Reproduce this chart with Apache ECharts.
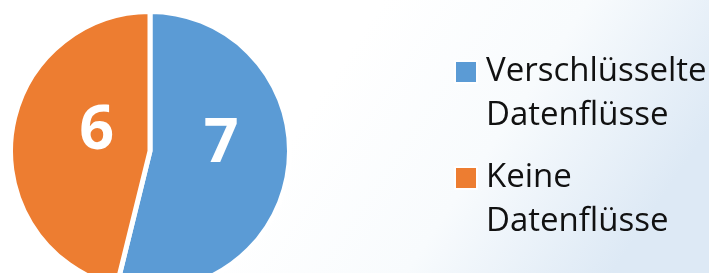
<!DOCTYPE html>
<html>
<head>
<meta charset="utf-8">
<script src="https://cdn.jsdelivr.net/npm/echarts@6/dist/echarts.min.js"></script>
<style>
  html, body { margin: 0; padding: 0; }
  #chart { width: 709px; height: 273px; }
</style>
</head>
<body>
<div id="chart"></div>
<script>
// Daten
var kategorien = ['Verschlüsselte Datenflüsse', 'Keine Datenflüsse'];
var werte = [7, 6];
var farben = ['#5B9BD5', '#ED7D31'];

var labelVersatz = [[-1, -15], [19, -11]];   // Label leicht verschieben wie im Original

var pieDaten = [];
for (var i = 0; i < kategorien.length; i++) {
    pieDaten.push({ name: kategorien[i], value: werte[i], itemStyle: { color: farben[i] } });
}

function legende(name, top) {     // eine Legende je Eintrag, Quadrat an erster Zeile
    return {
        data: [name],
        left: 454,
        top: top,
        padding: 0,
        icon: 'rect',
        itemWidth: 22,
        itemHeight: 22,
        selectedMode: false,
        // leere erste Zeile, damit das Quadrat auf Höhe der ersten Textzeile sitzt
        formatter: function (n) { return '\n' + n.replace(' ', '\n'); },
        textStyle: {
            fontFamily: 'Open Sans',
            fontSize: 33,
            lineHeight: 44,
            color: '#111111',
            padding: [8, 0, 0, 4]
        }
    };
}

var chart = echarts.init(document.getElementById('chart'));
chart.setOption({
    backgroundColor: {
        type: 'linear', x: 0.45, y: 0.35, x2: 0.85, y2: 1.05,
        colorStops: [
            { offset: 0, color: '#ffffff' },
            { offset: 0.5, color: '#f8fbfd' },
            { offset: 1, color: '#dde9f5' }
        ]
    },
    animation: false,
    legend: [legende(kategorien[0], 2), legende(kategorien[1], 108)],
    series: [{
        type: 'pie',
        center: [150, 151],
        radius: 139.5,
        startAngle: 90,
        clockwise: true,
        itemStyle: { borderColor: '#ffffff', borderWidth: 5 },
        emphasis: { disabled: true },
        label: {
            show: true,
            position: 'inside',
            formatter: '{c}',
            color: '#ffffff',
            fontFamily: 'Open Sans',
            fontWeight: 'bold',
            fontSize: 61
        },
        labelLine: { show: false },
        labelLayout: function (p) {
            return { dx: labelVersatz[p.dataIndex][0], dy: labelVersatz[p.dataIndex][1] };
        },
        data: pieDaten
    }]
});
</script>
</body>
</html>
